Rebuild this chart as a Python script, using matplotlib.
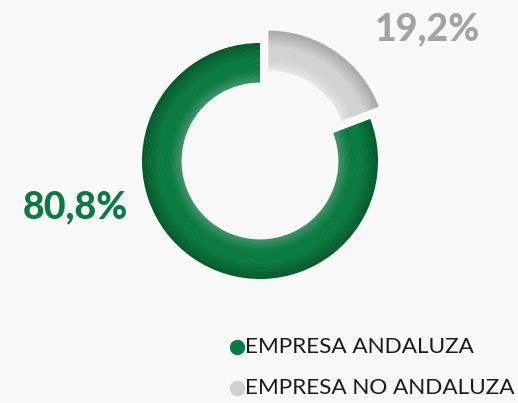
import numpy as np
import matplotlib.pyplot as plt
from matplotlib.colors import to_rgb

plt.rcParams['font.family'] = ['Lato', 'DejaVu Sans']

categorias = ['EMPRESA NO ANDALUZA', 'EMPRESA ANDALUZA']
valores = [19.2, 80.8]
etiquetas = ['19,2%', '80,8%']

# colores: (interior, medio, exterior) para simular el relieve
tonos = [('#e6e6e6', '#d2d2d2', '#a9a9a9'),
         ('#3f9468', '#0b7a41', '#045a2c')]
color_etiqueta = ['#a3a3a3', '#0b7a41']
color_leyenda = ['#d0d0d0', '#0b7a41']

fig = plt.figure(figsize=(5.18, 4.03), dpi=100)
fig.patch.set_facecolor('#f9f9f9')
ax = fig.add_axes([0, 0, 1, 1])
ax.set_xlim(0, 518)
ax.set_ylim(0, 403)
ax.set_aspect('equal')
ax.axis('off')

centro = (260, 242)
r_ext = 118
ancho = 39
explode = [15, 0]


def mezcla(a, b, t):
    a, b = np.array(to_rgb(a)), np.array(to_rgb(b))
    return tuple(a + (b - a) * t)


# anillos concentricos para un degradado radial
n = 24
for i in range(n):
    t = (i + 0.5) / n  # 0 interior, 1 exterior
    cols = []
    for ini, med, fin in tonos:
        if t < 0.5:
            cols.append(mezcla(ini, med, min(1, t / 0.3)))
        else:
            cols.append(mezcla(med, fin, max(0, (t - 0.6) / 0.4)))
    r = r_ext - ancho + ancho * (i + 1) / n
    ax.pie(valores, radius=r, center=centro, startangle=90, counterclock=False,
           explode=explode, colors=cols,
           wedgeprops=dict(width=ancho / n + 0.6, linewidth=0))

ax.set_xlim(0, 518)
ax.set_ylim(0, 403)

ax.text(427, 374, etiquetas[0], color=color_etiqueta[0], fontsize=27,
        fontweight='black', ha='center', va='center')
ax.text(75, 196, etiquetas[1], color=color_etiqueta[1], fontsize=27,
        fontweight='black', ha='center', va='center')

# leyenda (verde primero)
filas_y = [403 - 347, 403 - 388]
for y, nombre, c in zip(filas_y, categorias[::-1], color_leyenda[::-1]):
    ax.plot(236.5, y, 'o', markersize=10, color=c)
    ax.text(245, y, nombre, fontsize=16.2, color='#1a1a1a',
            ha='left', va='center')

fig.savefig('out.png', dpi=100, facecolor=fig.get_facecolor())
